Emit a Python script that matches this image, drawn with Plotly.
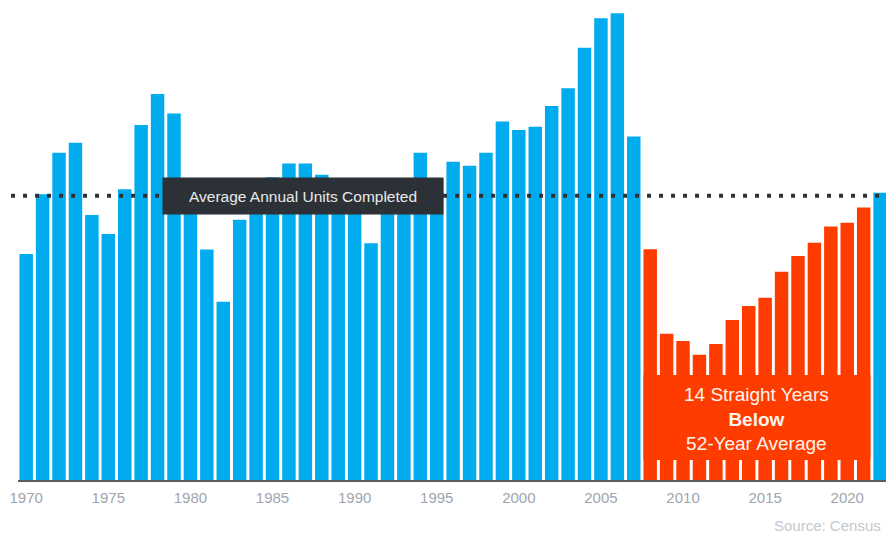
import plotly.graph_objects as go

# Annual single-family housing units completed (thousands)
years = [1970, 1971, 1972, 1973, 1974, 1975, 1976, 1977, 1978, 1979,
         1980, 1981, 1982, 1983, 1984, 1985, 1986, 1987, 1988, 1989,
         1990, 1991, 1992, 1993, 1994, 1995, 1996, 1997, 1998, 1999,
         2000, 2001, 2002, 2003, 2004, 2005, 2006, 2007, 2008, 2009,
         2010, 2011, 2012, 2013, 2014, 2015, 2016, 2017, 2018, 2019,
         2020, 2021, 2022]
units = [801, 1013, 1160, 1195, 939, 872, 1030, 1258, 1368, 1299,
         957, 817, 632, 922, 1025, 1073, 1122, 1122, 1082, 1040,
         966, 839, 964, 1039, 1160, 1066, 1128, 1114, 1160, 1270,
         1240, 1252, 1325, 1388, 1532, 1636, 1654, 1217, 818, 518,
         493, 444, 482, 567, 617, 646, 738, 794, 841, 898,
         912, 966, 1018]
average_units = 1007
highlight_years = [2008, 2021]
tick_years = [1970, 1975, 1980, 1985, 1990, 1995, 2000, 2005, 2010, 2015, 2020]

BLUE = "#00acee"
ORANGE = "#ff3c00"
DARK = "#2c3137"
FONT = "Arial, Liberation Sans, sans-serif"
BAR_GAP = 0.18
BAR_W = 1 - BAR_GAP

colors = [ORANGE if highlight_years[0] <= y <= highlight_years[1] else BLUE for y in years]

fig = go.Figure()
fig.add_trace(go.Bar(
    x=years, y=units,
    marker=dict(color=colors, line=dict(width=0)),
    hoverinfo="x+y",
))

# dotted average line
fig.add_shape(type="line", xref="paper", yref="y",
              x0=-0.008, x1=1.0, y0=average_units, y1=average_units,
              line=dict(color=DARK, width=4, dash="4px,8px"), layer="above")

# orange callout box
fig.add_shape(type="rect", xref="x", yref="paper",
              x0=highlight_years[0] - BAR_W / 2, x1=highlight_years[1] + BAR_W / 2,
              y0=0.0417, y1=0.219,
              fillcolor=ORANGE, line=dict(width=0), layer="above")

fig.add_annotation(
    x=(highlight_years[0] + highlight_years[1]) / 2, xref="x",
    y=0.128, yref="paper", yanchor="middle",
    text="14 Straight Years<br><b>Below</b><br>52-Year Average",
    showarrow=False, align="center",
    font=dict(family=FONT, size=19, color="#fff4ee"),
)

# average label box
fig.add_annotation(
    x=0.3283, xref="paper", y=average_units, yref="y",
    xanchor="center", yanchor="middle",
    text="Average Annual Units Completed",
    showarrow=False, width=280, height=36, borderpad=0,
    bgcolor=DARK, font=dict(family=FONT, size=15.5, color="#e8e9ea"),
)

# source
fig.add_annotation(
    x=0.996, xref="paper", y=-0.094, yref="paper",
    xanchor="right", yanchor="middle",
    text="Source: Census", showarrow=False,
    font=dict(family=FONT, size=15, color="#c4c8cf"),
)

fig.update_layout(
    width=886, height=537,
    margin=dict(l=18, r=0, t=0, b=57),
    paper_bgcolor="white", plot_bgcolor="white",
    bargap=BAR_GAP, showlegend=False,
    xaxis=dict(range=[1969.5, 2022.36], tickvals=tick_years,
               ticktext=[str(t) for t in tick_years],
               showgrid=False, zeroline=False, showline=True,
               linecolor="#5a5d62", linewidth=2, ticks="",
               ticklabelstandoff=3,
               tickfont=dict(family=FONT, size=15, color="#a0a5ae")),
    yaxis=dict(range=[0, 1701], visible=False, showgrid=False, zeroline=False),
)

fig.write_html("out.html")
